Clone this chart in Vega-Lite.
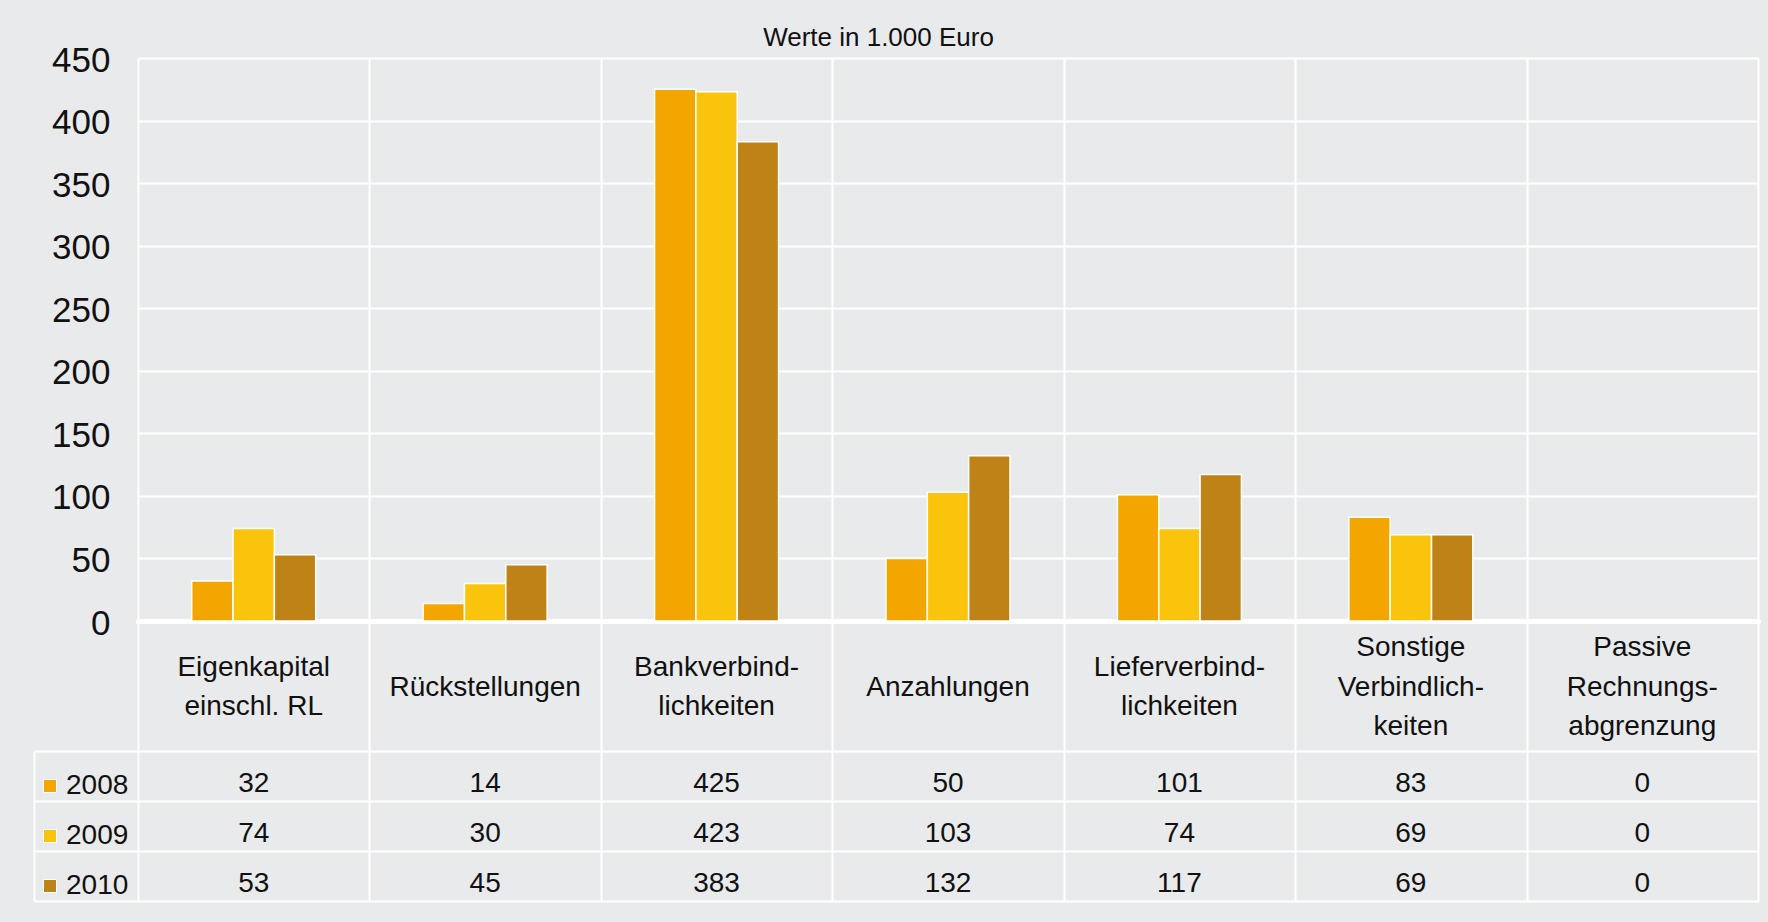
{
  "$schema": "https://vega.github.io/schema/vega-lite/v6.json",
  "background": "#E9EAEB",
  "padding": {"left": 33, "top": 25, "right": 12, "bottom": 25},
  "title": {"text": "Werte in 1.000 Euro", "fontSize": 26, "font": "Liberation Sans", "fontWeight": "normal", "color": "#111111", "anchor": "middle", "frame": "bounds", "dx": -17, "offset": -8},
  "datasets": {
    "values": [
      {"category": "Eigenkapital\neinschl. RL", "year": "2008", "value": 32},
      {"category": "Eigenkapital\neinschl. RL", "year": "2009", "value": 74},
      {"category": "Eigenkapital\neinschl. RL", "year": "2010", "value": 53},
      {"category": "Rückstellungen", "year": "2008", "value": 14},
      {"category": "Rückstellungen", "year": "2009", "value": 30},
      {"category": "Rückstellungen", "year": "2010", "value": 45},
      {"category": "Bankverbind-\nlichkeiten", "year": "2008", "value": 425},
      {"category": "Bankverbind-\nlichkeiten", "year": "2009", "value": 423},
      {"category": "Bankverbind-\nlichkeiten", "year": "2010", "value": 383},
      {"category": "Anzahlungen", "year": "2008", "value": 50},
      {"category": "Anzahlungen", "year": "2009", "value": 103},
      {"category": "Anzahlungen", "year": "2010", "value": 132},
      {"category": "Lieferverbind-\nlichkeiten", "year": "2008", "value": 101},
      {"category": "Lieferverbind-\nlichkeiten", "year": "2009", "value": 74},
      {"category": "Lieferverbind-\nlichkeiten", "year": "2010", "value": 117},
      {"category": "Sonstige\nVerbindlich-\nkeiten", "year": "2008", "value": 83},
      {"category": "Sonstige\nVerbindlich-\nkeiten", "year": "2009", "value": 69},
      {"category": "Sonstige\nVerbindlich-\nkeiten", "year": "2010", "value": 69},
      {"category": "Passive\nRechnungs-\nabgrenzung", "year": "2008", "value": 0},
      {"category": "Passive\nRechnungs-\nabgrenzung", "year": "2009", "value": 0},
      {"category": "Passive\nRechnungs-\nabgrenzung", "year": "2010", "value": 0}
    ],
    "categories": [
      {"category": "Eigenkapital\neinschl. RL"},
      {"category": "Rückstellungen"},
      {"category": "Bankverbind-\nlichkeiten"},
      {"category": "Anzahlungen"},
      {"category": "Lieferverbind-\nlichkeiten"},
      {"category": "Sonstige\nVerbindlich-\nkeiten"},
      {"category": "Passive\nRechnungs-\nabgrenzung"}
    ]
  },
  "spacing": 0,
  "bounds": "flush",
  "resolve": {"legend": {"color": "independent"}},
  "config": {
    "view": {"stroke": null},
    "font": "Liberation Sans",
    "axis": {"gridColor": "white", "gridWidth": 2, "gridOpacity": 1}
  },
  "vconcat": [
    {
      "width": 1620,
      "height": 563,
      "data": {"name": "values"},
      "mark": {"type": "bar", "stroke": "white", "strokeWidth": 1.5},
      "encoding": {
        "x": {"field": "category", "type": "nominal", "sort": null,
          "scale": {"paddingInner": 0, "paddingOuter": 0, "domain": ["Eigenkapital\neinschl. RL", "Rückstellungen", "Bankverbind-\nlichkeiten", "Anzahlungen", "Lieferverbind-\nlichkeiten", "Sonstige\nVerbindlich-\nkeiten", "Passive\nRechnungs-\nabgrenzung"]},
          "axis": {"title": null, "labels": false, "ticks": false, "domain": true, "domainColor": "white", "domainWidth": 5, "domainCap": "round", "grid": true, "tickBand": "extent"}},
        "xOffset": {"field": "year", "type": "nominal", "scale": {"paddingInner": 0, "paddingOuter": 0, "range": [53.7, 177.7]}},
        "y": {"field": "value", "type": "quantitative",
          "scale": {"domain": [0, 450], "nice": false},
          "axis": {"title": null, "values": [0, 50, 100, 150, 200, 250, 300, 350, 400, 450], "ticks": false, "domain": false, "labelFontSize": 35, "labelColor": "#111111", "labelPadding": 28, "grid": true, "labelOffset": 2}},
        "color": {"field": "year", "type": "nominal",
          "scale": {"domain": ["2008", "2009", "2010"], "range": ["#F3A600", "#FAC40D", "#BE8216"]},
          "legend": null}
      }
    },
    {
      "width": 1620,
      "height": 130,
      "data": {"name": "categories"},
      "encoding": {
        "x": {"field": "category", "type": "nominal", "sort": null,
          "scale": {"paddingInner": 0, "paddingOuter": 0, "domain": ["Eigenkapital\neinschl. RL", "Rückstellungen", "Bankverbind-\nlichkeiten", "Anzahlungen", "Lieferverbind-\nlichkeiten", "Sonstige\nVerbindlich-\nkeiten", "Passive\nRechnungs-\nabgrenzung"]},
          "axis": {"title": null, "labels": false, "ticks": false, "domain": false, "grid": true, "tickBand": "extent"}},
        "text": {"field": "category"}
      },
      "layer": [
        {"transform": [{"filter": "length(split(datum.category, '\\n')) == 1"}],
         "mark": {"type": "text", "lineBreak": "\n", "lineHeight": 39.5, "fontSize": 28, "color": "#111111", "dy": 1.5}},
        {"transform": [{"filter": "length(split(datum.category, '\\n')) == 2"}],
         "mark": {"type": "text", "lineBreak": "\n", "lineHeight": 39.5, "fontSize": 28, "color": "#111111", "dy": -18.5}},
        {"transform": [{"filter": "length(split(datum.category, '\\n')) == 3"}],
         "mark": {"type": "text", "lineBreak": "\n", "lineHeight": 39.5, "fontSize": 28, "color": "#111111", "dy": -38}}
      ]
    },
    {
      "width": 1620,
      "height": 150,
      "data": {"name": "values"},
      "encoding": {
        "x": {"field": "category", "type": "nominal", "sort": null,
          "scale": {"paddingInner": 0, "paddingOuter": 0, "domain": ["Eigenkapital\neinschl. RL", "Rückstellungen", "Bankverbind-\nlichkeiten", "Anzahlungen", "Lieferverbind-\nlichkeiten", "Sonstige\nVerbindlich-\nkeiten", "Passive\nRechnungs-\nabgrenzung"]},
          "axis": {"title": null, "labels": false, "ticks": false, "domain": false, "grid": true, "tickBand": "extent"}},
        "y": {"field": "year", "type": "nominal", "sort": null,
          "scale": {"paddingInner": 0, "paddingOuter": 0},
          "axis": {"title": null, "labels": false, "ticks": true, "tickSize": -104, "tickColor": "white", "tickWidth": 2, "offset": 104, "domain": true, "domainColor": "white", "domainWidth": 2, "grid": true, "tickBand": "extent"}}
      },
      "layer": [
        {"mark": {"type": "text", "fontSize": 28, "color": "#111111", "dy": 7.5},
         "encoding": {"text": {"field": "value", "type": "quantitative"}}},
        {"mark": {"type": "square", "opacity": 0},
         "encoding": {"color": {"field": "year", "type": "nominal",
           "legend": {"orient": "none", "legendX": -102, "legendY": 21, "title": null, "direction": "vertical", "symbolType": "square", "symbolSize": 169, "symbolOpacity": 1, "symbolStrokeColor": "white", "symbolStrokeWidth": 1, "labelFontSize": 28, "labelColor": "#111111", "labelOffset": 2, "rowPadding": 22, "padding": 0}}}}
      ]
    }
  ]
}
